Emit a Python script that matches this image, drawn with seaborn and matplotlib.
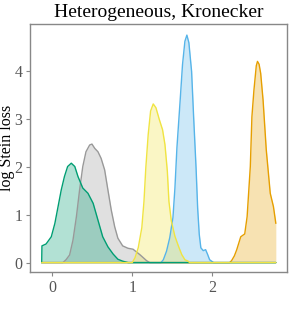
import numpy as np
import pandas as pd
import matplotlib
matplotlib.use('Agg')
import matplotlib.pyplot as plt
import seaborn as sns

# grid ends shared by all curves
grid_lo = -0.135
grid_hi = 2.80

green_x = [-0.132, -0.08, -0.015, 0.03, 0.07, 0.11, 0.15, 0.19, 0.236, 0.28, 0.32, 0.38, 0.445,
           0.51, 0.57, 0.63, 0.695, 0.76, 0.82, 0.88, 0.95]
green_y = [0.35, 0.39, 0.54, 0.82, 1.17, 1.52, 1.80, 2.01, 2.08, 2.01, 1.80, 1.56, 1.45,
           1.24, 0.89, 0.54, 0.33, 0.18, 0.07, 0.03, 0.0]

grey_x = [0.13, 0.17, 0.215, 0.257, 0.30, 0.34, 0.38, 0.42, 0.466, 0.495, 0.53, 0.57, 0.61, 0.654,
          0.695, 0.737, 0.78, 0.82, 0.88, 0.946, 1.01, 1.10, 1.18, 1.22]
grey_y = [0.0, 0.06, 0.16, 0.47, 0.96, 1.52, 2.01, 2.32, 2.46, 2.48, 2.39, 2.32, 2.18, 1.94,
          1.52, 1.10, 0.75, 0.51, 0.35, 0.30, 0.28, 0.16, 0.04, 0.0]

yellow_x = [1.00, 1.034, 1.075, 1.12, 1.147, 1.17, 1.20, 1.23, 1.263, 1.297, 1.34, 1.38, 1.41, 1.44,
            1.46, 1.49, 1.535, 1.58, 1.62, 1.66, 1.70, 1.72]
yellow_y = [0.0, 0.10, 0.31, 0.73, 1.28, 1.98, 2.68, 3.17, 3.32, 3.24, 2.99, 2.78, 2.47, 1.91,
            1.28, 0.87, 0.55, 0.34, 0.17, 0.06, 0.03, 0.0]

blue_x = [1.36, 1.39, 1.43, 1.47, 1.51, 1.535, 1.56, 1.60, 1.63, 1.66, 1.685, 1.71, 1.744, 1.77,
          1.80, 1.82, 1.84, 1.86, 1.89, 1.92, 1.945, 1.97, 1.995, 2.02]
blue_y = [0.0, 0.06, 0.24, 0.52, 0.94, 1.56, 2.40, 3.38, 4.14, 4.63, 4.76, 4.60, 4.00, 3.03,
          1.98, 1.14, 0.59, 0.31, 0.25, 0.27, 0.17, 0.06, 0.03, 0.0]

orange_x = [2.22, 2.245, 2.28, 2.31, 2.36, 2.41, 2.44, 2.48, 2.50, 2.525, 2.555, 2.57, 2.59, 2.61,
            2.64, 2.68, 2.73, 2.77, 2.80]
orange_y = [0.0, 0.04, 0.14, 0.27, 0.54, 0.60, 0.96, 2.01, 3.05, 3.60, 4.12, 4.21, 4.15, 3.96,
            3.40, 2.36, 1.45, 1.17, 0.82]

names = ['orange', 'blue', 'grey', 'green', 'yellow']
colors = ['#E69F00', '#56B4E9', '#999999', '#009E73', '#F0E442']
series = {
    'orange': (orange_x, orange_y),
    'blue': (blue_x, blue_y),
    'grey': (grey_x, grey_y),
    'green': (green_x, green_y),
    'yellow': (yellow_x, yellow_y),
}

rows = []
for name in names:
    xs, ys = series[name]
    xs = list(xs)
    ys = list(ys)
    # zero outside the curve's support, over the common grid
    if xs[0] > grid_lo:
        xs = [grid_lo] + xs
        ys = [0.0] + ys
    if xs[-1] < grid_hi:
        xs = xs + [grid_hi]
        ys = ys + [0.0]
    for a, b in zip(xs, ys):
        rows.append({'method': name, 'x': a, 'density': b})
df = pd.DataFrame(rows)

sns.set_theme(style='white')
plt.rcParams['font.family'] = ['Liberation Serif', 'DejaVu Serif']

fig = plt.figure(figsize=(2.91, 3.09), dpi=100)
ax = fig.add_axes([0.103, 0.120, 0.883, 0.802])

for name, col in zip(names, colors):
    d = df[df['method'] == name]
    ax.fill_between(d['x'], d['density'], 0, color=col, alpha=0.3, linewidth=0)

sns.lineplot(data=df, x='x', y='density', hue='method', hue_order=names, palette=colors,
             estimator=None, sort=False, legend=False, linewidth=1.0, ax=ax)

ax.set_xlim(-0.282, 2.939)
ax.set_ylim(-0.195, 4.99)
ax.set_xticks([0, 1, 2])
ax.set_yticks([0, 1, 2, 3, 4])
ax.set_xlabel('')
ax.set_ylabel('log Stein loss', fontsize=11.5, color='black', labelpad=-0.8)
ax.set_title('Heterogeneous, Kronecker', fontsize=14, color='black', pad=5)
ax.tick_params(axis='both', which='both', direction='out', length=3, width=0.8,
               colors='#888888', labelcolor='#555555', labelsize=11.5, pad=2.5,
               bottom=True, left=True)
for sp in ax.spines.values():
    sp.set_color('#888888')
    sp.set_linewidth(1.0)

fig.savefig('out.png', dpi=100)
